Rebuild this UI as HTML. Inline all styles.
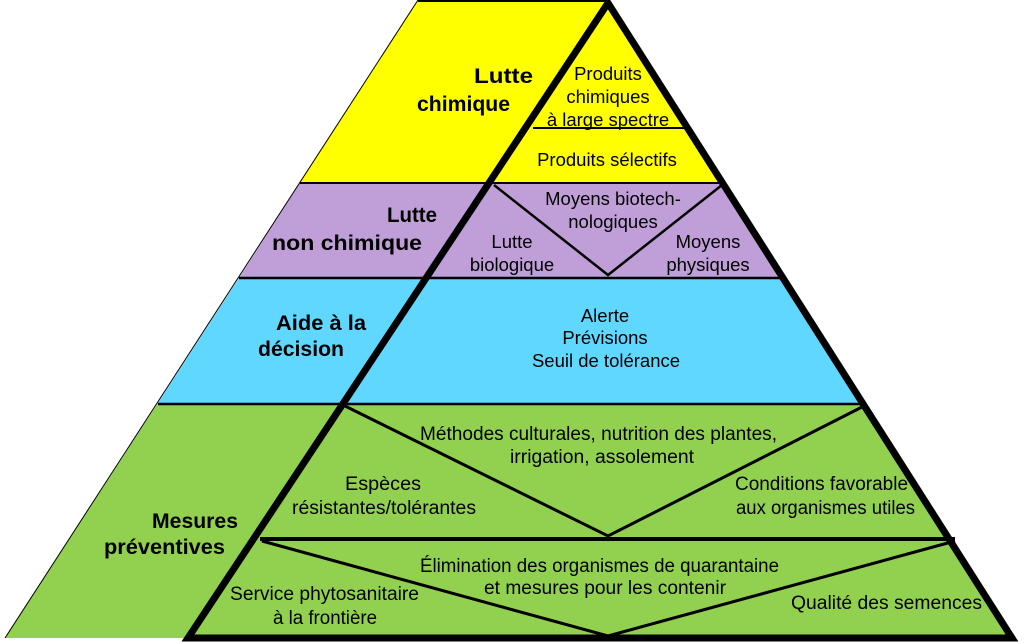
<!DOCTYPE html>
<html><head><meta charset="utf-8"><style>html,body{margin:0;padding:0;background:#fff}svg{display:block}</style></head>
<body>
<svg width="1024" height="644" viewBox="0 0 1024 644" xmlns="http://www.w3.org/2000/svg">
<polygon points="418,0 608,0 608,3 726,183 300,183" fill="#FFFF00"/>
<polygon points="300,183 726,183 786,278 239,278" fill="#C09FD8"/>
<polygon points="239,278 786,278 865,403 158,403" fill="#5FD7FF"/>
<polygon points="158,403 865,403 1012,638 5,638" fill="#92D050"/>
<g stroke="#000" fill="none">
<line x1="418" y1="1" x2="608" y2="1" stroke-width="2"/>
<line x1="418" y1="0" x2="5" y2="638" stroke-width="1"/>
<line x1="300" y1="183" x2="726" y2="183" stroke-width="2"/>
<line x1="239" y1="278" x2="786" y2="278" stroke-width="2.5"/>
<line x1="158" y1="404" x2="865" y2="404" stroke-width="2.5"/>
<line x1="533" y1="128" x2="690" y2="128" stroke-width="2"/>
<line x1="260" y1="539" x2="955" y2="539" stroke-width="4"/>
<polyline points="494,185 608,275 722,185" stroke-width="2.5"/>
<polyline points="345,406 608,536 864,406" stroke-width="3"/>
<polyline points="262,541 608,636 955,541" stroke-width="3"/>
<polygon points="608,3 1012,638 188,638" stroke-width="7" stroke-linejoin="miter"/>
</g>
<g font-family="Liberation Sans, Arial, sans-serif" font-weight="bold" font-size="21" fill="#000">
<text x="474" y="83" textLength="59" lengthAdjust="spacingAndGlyphs">Lutte</text>
<text x="417" y="111" textLength="93" lengthAdjust="spacingAndGlyphs">chimique</text>
<text x="387" y="222" textLength="50" lengthAdjust="spacingAndGlyphs">Lutte</text>
<text x="272" y="250" textLength="150" lengthAdjust="spacingAndGlyphs">non chimique</text>
<text x="276" y="330" textLength="90" lengthAdjust="spacingAndGlyphs">Aide à la</text>
<text x="258" y="356" textLength="86" lengthAdjust="spacingAndGlyphs">décision</text>
<text x="152" y="528" textLength="86" lengthAdjust="spacingAndGlyphs">Mesures</text>
<text x="104" y="554" textLength="121" lengthAdjust="spacingAndGlyphs">préventives</text>
</g>
<g font-family="Liberation Sans, Arial, sans-serif" font-size="18.5" fill="#000" text-anchor="middle">
<text x="608" y="80">Produits</text>
<text x="608" y="103">chimiques</text>
<text x="608" y="126">à large spectre</text>
<text x="607" y="166">Produits sélectifs</text>
<text x="613" y="205">Moyens biotech-</text>
<text x="613" y="228">nologiques</text>
<text x="512" y="248">Lutte</text>
<text x="512" y="271">biologique</text>
<text x="708" y="248">Moyens</text>
<text x="708" y="271">physiques</text>
<text x="605" y="322">Alerte</text>
<text x="605" y="344">Prévisions</text>
<text x="606" y="367">Seuil de tolérance</text>
</g>
<g font-family="Liberation Sans, Arial, sans-serif" font-size="19" fill="#000">
<text x="420" y="440" textLength="357" lengthAdjust="spacingAndGlyphs">Méthodes culturales, nutrition des plantes,</text>
<text x="510" y="463" textLength="184" lengthAdjust="spacingAndGlyphs">irrigation, assolement</text>
<text x="345" y="490" textLength="76" lengthAdjust="spacingAndGlyphs">Espèces</text>
<text x="292" y="514" textLength="184" lengthAdjust="spacingAndGlyphs">résistantes/tolérantes</text>
<text x="735" y="490" textLength="173" lengthAdjust="spacingAndGlyphs">Conditions favorable</text>
<text x="736" y="514" textLength="179" lengthAdjust="spacingAndGlyphs">aux organismes utiles</text>
<text x="420" y="572" textLength="359" lengthAdjust="spacingAndGlyphs">Élimination des organismes de quarantaine</text>
<text x="484" y="594" textLength="242" lengthAdjust="spacingAndGlyphs">et mesures pour les contenir</text>
<text x="230" y="600" textLength="189" lengthAdjust="spacingAndGlyphs">Service phytosanitaire</text>
<text x="273" y="624" textLength="104" lengthAdjust="spacingAndGlyphs">à la frontière</text>
<text x="791" y="609" textLength="191" lengthAdjust="spacingAndGlyphs">Qualité des semences</text>
</g>
</svg>
</body></html>
